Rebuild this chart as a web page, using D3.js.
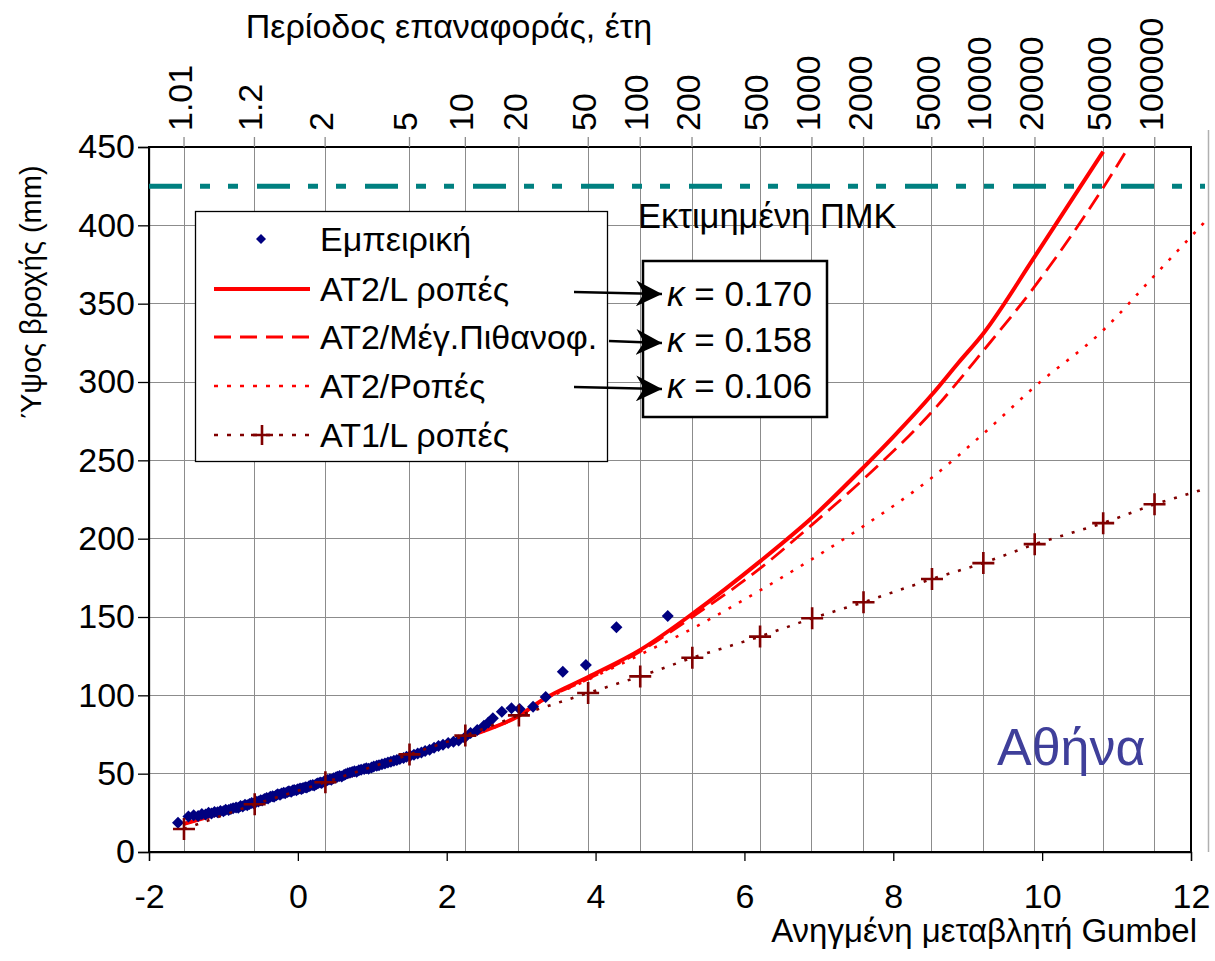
<!DOCTYPE html>
<html><head><meta charset="utf-8">
<script src="https://cdn.jsdelivr.net/npm/d3@7"></script>
<style>
body{margin:0;background:#fff}
svg{display:block}
text{font-family:"Liberation Sans",Arial,sans-serif;fill:#000}
</style>
</head><body>
<svg id="c" width="1215" height="961"></svg>
<script>
// ---------------- data ----------------
const xTicks = [-2, 0, 2, 4, 6, 8, 10, 12];
const yTicks = [0, 50, 100, 150, 200, 250, 300, 350, 400, 450];
const returnPeriods = [1.01, 1.2, 2, 5, 10, 20, 50, 100, 200, 500, 1000, 2000, 5000, 10000, 20000, 50000, 100000];
const returnLabels = ["1.01","1.2","2","5","10","20","50","100","200","500","1000","2000","5000","10000","20000","50000","100000"];

// Empirical (Εμπειρική) points: Gumbel reduced variate, rainfall depth (mm)
const empX = [-1.61,-1.47,-1.40,-1.34,-1.29,-1.24,-1.20,-1.16,-1.12,-1.08,
  -1.04,-1.00,-0.97,-0.93,-0.90,-0.87,-0.83,-0.80,-0.77,-0.74,
  -0.71,-0.68,-0.65,-0.62,-0.59,-0.56,-0.53,-0.50,-0.48,-0.45,
  -0.42,-0.40,-0.37,-0.34,-0.32,-0.29,-0.27,-0.24,-0.22,-0.19,
  -0.17,-0.14,-0.12,-0.09,-0.07,-0.05,-0.02,0.00,0.03,0.05,
  0.07,0.10,0.12,0.15,0.17,0.20,0.22,0.25,0.27,0.30,
  0.32,0.35,0.38,0.40,0.43,0.45,0.48,0.51,0.53,0.56,
  0.59,0.62,0.64,0.67,0.70,0.73,0.76,0.79,0.82,0.85,
  0.89,0.92,0.95,0.99,1.02,1.06,1.09,1.13,1.17,1.21,
  1.25,1.29,1.33,1.37,1.42,1.46,1.51,1.56,1.61,1.66,
  1.71,1.77,1.83,1.89,1.95,2.02,2.09,2.16,2.24,2.32,
  2.41,2.50,2.56,2.62,2.74,2.87,2.98,3.16,3.33,3.56,
  3.87,4.28,4.97];
const empY = [18.7,22.6,23.4,23.0,24.3,23.9,25.0,24.6,25.6,25.3,
  26.2,26.0,27.0,26.8,27.5,27.9,28.4,28.2,29.3,29.0,
  30.1,29.8,30.6,31.2,31.0,32.0,32.3,33.1,32.8,33.8,
  34.5,34.2,35.2,35.6,35.3,36.3,36.8,36.5,37.4,37.8,
  37.5,38.3,38.7,38.5,39.2,39.6,39.4,40.1,40.5,40.2,
  40.9,41.4,41.1,41.9,42.4,42.8,42.5,43.4,43.9,44.3,
  44.0,45.0,45.5,45.9,46.4,46.1,47.0,47.6,48.0,48.5,
  48.2,49.2,49.7,50.2,50.6,51.0,51.5,51.3,52.2,52.5,
  53.0,53.4,53.2,54.0,54.6,55.0,55.4,56.0,56.5,57.1,
  57.6,58.2,58.7,59.4,60.0,60.8,61.4,62.1,62.8,63.5,
  64.4,65.3,66.5,67.6,68.4,69.5,70.3,71.2,73.0,76.0,
  77.8,80.6,82.6,85.3,89.5,91.7,91.3,92.7,99.0,115.0,
  119.3,143.4,150.6];

// ΑΤ2/L ροπές (solid)
const at2LX = [-1.53,-0.58,0.37,1.50,2.25,2.97,3.30,3.90,4.60,5.30,6.21,6.91,7.60,8.00,8.52,8.87,9.21,9.90,10.82];
const at2LY = [18.0,31.0,44.0,60.5,73.0,87.0,97.5,111.7,129.0,152.0,185.5,213.5,245.5,265.0,292.0,312.0,331.0,380.0,447.0];
// ΑΤ2/Μέγ.Πιθανοφ. (dashed)
const at2MLX = [-1.53,-0.58,0.37,1.50,2.25,2.97,3.30,3.90,4.60,5.30,6.21,6.91,7.60,8.52,9.21,9.90,10.82,11.11];
const at2MLY = [18.0,31.0,44.0,60.5,73.0,87.0,97.0,110.5,128.0,150.0,181.0,209.0,238.0,281.0,320.0,361.0,424.0,446.0];
// ΑΤ2/Ροπές (dotted)
const at2MX = [-1.53,-0.58,0.37,1.50,2.25,2.97,3.30,3.90,4.60,5.30,6.21,6.91,7.60,8.52,9.21,9.90,10.82,11.51,12.22];
const at2MY = [18.0,31.0,44.0,60.5,73.0,86.5,96.5,110.0,126.0,142.6,167.0,187.0,208.0,239.0,267.0,297.0,333.0,368.0,404.0];
// ΑΤ1/L ροπές (dotted with crosses)
const at1X = [-1.53,-0.58,0.37,1.50,2.25,2.97,3.90,4.60,5.30,6.21,6.91,7.60,8.52,9.21,9.90,10.82,11.51,12.20];
const at1Y = [14.7,30.5,44.5,62.3,74.3,87.2,101.5,112.1,124.0,137.5,149.2,159.4,174.3,184.4,196.5,209.9,222.0,232.0];
const at1Markers = [true,true,true,true,true,true,true,true,true,true,true,true,true,true,true,true,true,false];

const pmpValue = 425;
const pmpLabel = "Εκτιμημένη ΠΜΚ";
const kappaValues = ["0.170", "0.158", "0.106"];
const legendLabels = ["Εμπειρική", "ΑΤ2/L ροπές", "ΑΤ2/Μέγ.Πιθανοφ.", "ΑΤ2/Ροπές", "ΑΤ1/L ροπές"];
const stationName = "Αθήνα";

// ---------------- drawing ----------------
const svg = d3.select("#c");
const x = d3.scaleLinear().domain([-2, 12]).range([149, 1191]);
const y = d3.scaleLinear().domain([0, 450]).range([852, 147]);
const gumbel = T => -Math.log(-Math.log(1 - 1 / T));
const TICKFS = 34;

const defs = svg.append("defs");
defs.append("marker").attr("id", "arr").attr("viewBox", "0 0 26 26")
  .attr("refX", 26).attr("refY", 13).attr("markerWidth", 26).attr("markerHeight", 26)
  .attr("markerUnits", "userSpaceOnUse").attr("orient", "auto")
  .append("path").attr("d", "M0,0 L26,13 L0,26 L8,13 Z").attr("fill", "#000");

// grid
const grid = svg.append("g").attr("stroke", "#8c8c8c").attr("stroke-width", 1).attr("shape-rendering", "crispEdges");
grid.selectAll(".h").data(yTicks).join("line").attr("class", "h")
  .attr("x1", x(-2)).attr("x2", x(12)).attr("y1", d => y(d)).attr("y2", d => y(d));
grid.selectAll(".v").data(returnPeriods).join("line").attr("class", "v")
  .attr("x1", d => x(gumbel(d))).attr("x2", d => x(gumbel(d))).attr("y1", y(450)).attr("y2", y(0));

// extra outer frame line on the right
svg.append("line").attr("x1", 1208.5).attr("x2", 1208.5).attr("y1", 130).attr("y2", 852)
  .attr("stroke", "#b0b0b0").attr("stroke-width", 1.5);

// plot frame
svg.append("rect").attr("x", x(-2)).attr("y", y(450)).attr("width", x(12) - x(-2)).attr("height", y(0) - y(450))
  .attr("fill", "none").attr("stroke", "#000").attr("stroke-width", 1.3).attr("shape-rendering", "crispEdges");

// axes
const yAxis = svg.append("g").attr("transform", `translate(${x(-2)},0)`)
  .call(d3.axisLeft(y).tickValues(yTicks).tickSize(11).tickPadding(3).tickFormat(d => String(d)));
const xAxis = svg.append("g").attr("transform", `translate(0,${y(0)})`)
  .call(d3.axisBottom(x).tickValues(xTicks).tickSize(9).tickPadding(23).tickFormat(d => String(d)));
[yAxis, xAxis].forEach(a => {
  a.select(".domain").attr("stroke", "#000").attr("stroke-width", 1.3);
  a.selectAll(".tick line").attr("stroke", "#000").attr("stroke-width", 1.3);
  a.selectAll("text").attr("font-size", TICKFS).attr("font-family", "Liberation Sans, Arial, sans-serif").attr("fill", "#000");
});

// top return-period axis
const topAx = svg.append("g");
topAx.selectAll("line").data(returnPeriods).join("line")
  .attr("x1", d => x(gumbel(d))).attr("x2", d => x(gumbel(d)))
  .attr("y1", y(450) - 10).attr("y2", y(450)).attr("stroke", "#8c8c8c").attr("stroke-width", 1.3);
topAx.selectAll("text").data(returnPeriods).join("text")
  .attr("transform", d => `translate(${x(gumbel(d)) + 8},${y(450) - 16}) rotate(-90)`)
  .attr("font-size", TICKFS).text((d, i) => returnLabels[i]);

// titles
svg.append("text").attr("x", 449).attr("y", 38).attr("text-anchor", "middle").attr("font-size", 34)
  .text("Περίοδος επαναφοράς, έτη");
svg.append("text").attr("x", 1197).attr("y", 942).attr("text-anchor", "end").attr("font-size", 33)
  .text("Ανηγμένη μεταβλητή Gumbel");
svg.append("text").attr("transform", "translate(41,292) rotate(-90)").attr("text-anchor", "middle").attr("font-size", 29)
  .text("Ύψος βροχής (mm)");

// PMP line
svg.append("line").attr("x1", x(-2)).attr("x2", 1205).attr("y1", y(pmpValue)).attr("y2", y(pmpValue))
  .attr("stroke", "#008080").attr("stroke-width", 5).attr("stroke-dasharray", "33,18,10,18,10,19");
svg.append("text").attr("x", 638).attr("y", 228).attr("font-size", 34.5).text(pmpLabel);

// curves
const line = d3.line().x(d => x(d[0])).y(d => y(d[1])).curve(d3.curveMonotoneX);
const zip = (a, b) => a.map((v, i) => [v, b[i]]);
svg.append("path").datum(zip(at2MX, at2MY)).attr("d", line).attr("fill", "none")
  .attr("stroke", "#ff0000").attr("stroke-width", 2.6).attr("stroke-dasharray", "3,9");
svg.append("path").datum(zip(at2MLX, at2MLY)).attr("d", line).attr("fill", "none")
  .attr("stroke", "#ff0000").attr("stroke-width", 2.8).attr("stroke-dasharray", "17,8");
svg.append("path").datum(zip(at2LX, at2LY)).attr("d", line).attr("fill", "none")
  .attr("stroke", "#ff0000").attr("stroke-width", 4);

// empirical diamonds
const diamond = r => `M0,${-r}L${r},0L0,${r}L${-r},0Z`;
svg.append("g").selectAll("path").data(zip(empX, empY)).join("path")
  .attr("transform", d => `translate(${x(d[0])},${y(d[1])})`).attr("d", diamond(6)).attr("fill", "#000080");

// AT1 line + crosses
const at1 = zip(at1X, at1Y);
svg.append("path").datum(at1).attr("d", d3.line().x(d => x(d[0])).y(d => y(d[1]))).attr("fill", "none")
  .attr("stroke", "#800000").attr("stroke-width", 2.6).attr("stroke-dasharray", "3,9");
svg.append("g").selectAll("path").data(at1.filter((d, i) => at1Markers[i])).join("path")
  .attr("transform", d => `translate(${x(d[0])},${y(d[1])})`).attr("d", "M-11,0H11M0,-11V11")
  .attr("stroke", "#800000").attr("stroke-width", 2.6);

// legend
const lg = svg.append("g");
lg.append("rect").attr("x", 195.5).attr("y", 211.5).attr("width", 412).attr("height", 250)
  .attr("fill", "#fff").attr("stroke", "#000").attr("stroke-width", 1.3);
const rowY = [239, 289, 337, 386, 435];
lg.selectAll("text").data(legendLabels).join("text")
  .attr("x", 320).attr("y", (d, i) => rowY[i] + 12).attr("font-size", 34).text(d => d);
lg.append("path").attr("transform", `translate(261,${rowY[0]})`).attr("d", diamond(5)).attr("fill", "#000080");
lg.append("line").attr("x1", 214).attr("x2", 310).attr("y1", rowY[1]).attr("y2", rowY[1])
  .attr("stroke", "#ff0000").attr("stroke-width", 4);
lg.append("line").attr("x1", 214).attr("x2", 310).attr("y1", rowY[2]).attr("y2", rowY[2])
  .attr("stroke", "#ff0000").attr("stroke-width", 2.8).attr("stroke-dasharray", "17,9");
lg.append("line").attr("x1", 214).attr("x2", 310).attr("y1", rowY[3]).attr("y2", rowY[3])
  .attr("stroke", "#ff0000").attr("stroke-width", 2.6).attr("stroke-dasharray", "4,9");
lg.append("line").attr("x1", 214).attr("x2", 310).attr("y1", rowY[4]).attr("y2", rowY[4])
  .attr("stroke", "#800000").attr("stroke-width", 2.6).attr("stroke-dasharray", "4,9");
lg.append("path").attr("transform", `translate(262,${rowY[4]})`).attr("d", "M-11,0H11M0,-10V10")
  .attr("stroke", "#800000").attr("stroke-width", 2.6);

// kappa box
const kb = svg.append("g");
kb.append("rect").attr("x", 643).attr("y", 261).attr("width", 184).attr("height", 156)
  .attr("fill", "#fff").attr("stroke", "#000").attr("stroke-width", 2.5);
const kY = [306, 352, 398];
kappaValues.forEach((v, i) => {
  const t = kb.append("text").attr("x", 667).attr("y", kY[i]).attr("font-size", 35);
  t.append("tspan").attr("font-style", "italic").text("κ");
  t.append("tspan").text(" = " + v);
});

// arrows
const arrows = [[574, 292, 662, 294], [609, 341, 662, 343], [574, 387, 662, 389]];
svg.append("g").selectAll("line").data(arrows).join("line")
  .attr("x1", d => d[0]).attr("y1", d => d[1]).attr("x2", d => d[2]).attr("y2", d => d[3])
  .attr("stroke", "#000").attr("stroke-width", 2.5).attr("marker-end", "url(#arr)");

// station name
svg.append("text").attr("x", 997).attr("y", 765).attr("font-size", 52)
  .style("fill", "#3f3f9a").text(stationName);
</script>
</body></html>
